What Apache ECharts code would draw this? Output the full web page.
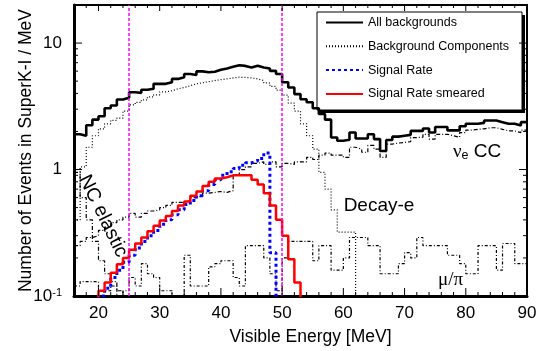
<!DOCTYPE html>
<html lang="en">
  <head>
    <meta charset="utf-8" />
  </head>
  <body style="margin: 0">
    <div id="container" style="width: 547px; height: 351px"></div>

    <script
      type="text/javascript"
      src="https://cdn.jsdelivr.net/npm/echarts@6/dist/echarts.min.js"
    ></script>
    <script type="text/javascript">
      // bin edges in MeV (1 MeV bins from 16 to 90)
      const binEdges = [
        16, 17, 18, 19, 20, 21, 22, 23, 24, 25, 26, 27, 28, 29, 30, 31, 32, 33,
        34, 35, 36, 37, 38, 39, 40, 41, 42, 43, 44, 45, 46, 47, 48, 49, 50, 51,
        52, 53, 54, 55, 56, 57, 58, 59, 60, 61, 62, 63, 64, 65, 66, 67, 68, 69,
        70, 71, 72, 73, 74, 75, 76, 77, 78, 79, 80, 81, 82, 83, 84, 85, 86, 87,
        88, 89, 90,
      ];

      // events / MeV per bin (0.05 = below the frame)
      const allBackgrounds = [
        1.9, 1.85, 2.24, 2.48, 2.64, 3.05, 3.21, 3.58, 3.7, 4.08,
        4.04, 4.28, 4.36, 4.76, 4.76, 4.91, 5.21, 5.37, 5.69, 5.6,
        5.97, 5.87, 5.94, 6.15, 6.3, 6.5, 6.67, 6.6, 6.4, 6.62,
        6.4, 6.3, 6.03, 5.7, 4.9, 4.45, 3.95, 3.6, 3.4, 3.05,
        2.75, 2.48, 1.79, 1.69, 1.72, 1.96, 1.76, 1.76, 1.9, 1.74,
        1.4, 1.71, 1.82, 1.85, 1.88, 2.02, 2.02, 2.11, 1.96, 2.17,
        2.17, 2.04, 2.04, 2.2, 2.3, 2.3, 2.34, 2.44, 2.44, 2.37,
        2.3, 2.3, 2.23, 2.37,
      ];
      const decayE = [
        0.4, 1.05, 1.5, 1.85, 2.1, 2.3, 2.45, 2.55, 2.9, 3.25,
        3.4, 3.55, 3.75, 3.9, 4.11, 4.2, 4.35, 4.45, 4.6, 4.76,
        4.85, 4.95, 5.05, 5.14, 5.21, 5.3, 5.37, 5.35, 5.3, 5.21,
        5.05, 4.85, 4.55, 4.25, 3.87, 3.35, 2.9, 2.3, 1.85, 1.45,
        0.95, 0.7, 0.48, 0.32, 0.32, 0.32, 0.05, 0.05, 0.05, 0.05,
        0.05, 0.05, 0.05, 0.05, 0.05, 0.05, 0.05, 0.05, 0.05, 0.05,
        0.05, 0.05, 0.05, 0.05, 0.05, 0.05, 0.05, 0.05, 0.05, 0.05,
        0.05, 0.05, 0.05, 0.05,
      ];
      const nueCC = [
        0.25, 0.27, 0.29, 0.3, 0.33, 0.35, 0.38, 0.4, 0.42, 0.45,
        0.42, 0.45, 0.47, 0.48, 0.5, 0.52, 0.55, 0.55, 0.57, 0.6,
        0.62, 0.65, 0.66, 0.67, 0.66, 0.68, 0.9, 1.0, 1.05, 1.12,
        1.15, 1.1, 1.15, 1.05, 1.12, 1.1, 1.15, 1.15, 1.25, 1.2,
        1.3, 1.35, 1.3, 1.3, 1.25, 1.5, 1.45, 1.37, 1.55, 1.45,
        1.25, 1.59, 1.62, 1.64, 1.66, 1.79, 1.8, 1.9, 1.74, 1.9,
        1.9, 1.85, 1.8, 1.96, 2.05, 2.08, 2.1, 2.14, 2.14, 2.08,
        2.02, 2.02, 1.96, 2.05,
      ];
      const ncElastic = [
        0.95, 0.6, 0.4, 0.27, 0.19, 0.15, 0.13, 0.11, 0.1, 0.08,
        0.05, 0.05, 0.05, 0.05, 0.05, 0.05, 0.05, 0.05, 0.05, 0.05,
        0.05, 0.05, 0.05, 0.05, 0.05, 0.05, 0.05, 0.05, 0.05, 0.05,
        0.05, 0.05, 0.05, 0.05, 0.05, 0.05, 0.05, 0.05, 0.05, 0.05,
        0.05, 0.05, 0.05, 0.05, 0.05, 0.05, 0.05, 0.05, 0.05, 0.05,
        0.05, 0.05, 0.05, 0.05, 0.05, 0.05, 0.05, 0.05, 0.05, 0.05,
        0.05, 0.05, 0.05, 0.05, 0.05, 0.05, 0.05, 0.05, 0.05, 0.05,
        0.05, 0.05, 0.05, 0.05,
      ];
      const muPi = [
        0.12, 0.13, 0.13, 0.13, 0.11, 0.11, 0.12, 0.1, 0.11, 0.14,
        0.12, 0.18, 0.15, 0.14, 0.11, 0.11, 0.1, 0.1, 0.21, 0.12,
        0.12, 0.12, 0.17, 0.18, 0.19, 0.19, 0.14, 0.12, 0.25, 0.25,
        0.25, 0.2, 0.15, 0.11, 0.2, 0.27, 0.27, 0.27, 0.27, 0.19,
        0.25, 0.25, 0.16, 0.16, 0.2, 0.29, 0.29, 0.29, 0.25, 0.25,
        0.15, 0.15, 0.15, 0.18, 0.22, 0.2, 0.29, 0.25, 0.25, 0.25,
        0.25, 0.21, 0.21, 0.18, 0.15, 0.15, 0.25, 0.25, 0.25, 0.16,
        0.26, 0.26, 0.18, 0.18,
      ];
      const signalRate = [
        0.05, 0.05, 0.05, 0.05,
        0.1, 0.115, 0.14, 0.16, 0.185, 0.21, 0.24, 0.27, 0.3, 0.33,
        0.37, 0.4, 0.44, 0.48, 0.53, 0.57, 0.62, 0.68, 0.76, 0.83,
        0.9, 0.96, 1.02, 1.08, 1.13, 1.17, 1.22, 1.35, 0.22, 0.05,
        0.05, 0.05, 0.05, 0.05, 0.05, 0.05, 0.05, 0.05, 0.05, 0.05,
        0.05, 0.05, 0.05, 0.05, 0.05, 0.05, 0.05, 0.05, 0.05, 0.05,
        0.05, 0.05, 0.05, 0.05, 0.05, 0.05, 0.05, 0.05, 0.05, 0.05,
        0.05, 0.05, 0.05, 0.05, 0.05, 0.05, 0.05, 0.05, 0.05, 0.05,
      ];
      const signalSmeared = [
        0.05, 0.05, 0.05, 0.05,
        0.11, 0.128, 0.153, 0.178, 0.2, 0.232, 0.26, 0.29, 0.325, 0.36,
        0.395, 0.43, 0.47, 0.52, 0.56, 0.62, 0.67, 0.74, 0.8, 0.85,
        0.87, 0.9, 0.9, 0.9, 0.9, 0.83, 0.76, 0.65, 0.52, 0.4,
        0.3, 0.195, 0.128, 0.05, 0.05, 0.05, 0.05, 0.05, 0.05, 0.05,
        0.05, 0.05, 0.05, 0.05, 0.05, 0.05, 0.05, 0.05, 0.05, 0.05,
        0.05, 0.05, 0.05, 0.05, 0.05, 0.05, 0.05, 0.05, 0.05, 0.05,
        0.05, 0.05, 0.05, 0.05, 0.05, 0.05, 0.05, 0.05, 0.05, 0.05,
      ];

      const xMajorTicks = [20, 30, 40, 50, 60, 70, 80, 90];
      const xMinorTicks = [
        16, 18, 22, 24, 26, 28, 32, 34, 36, 38, 42, 44, 46, 48, 52, 54, 56, 58,
        62, 64, 66, 68, 72, 74, 76, 78, 82, 84, 86, 88,
      ];
      const yMajorTicks = [0.1, 1, 10];
      const yMinorTicks = [
        0.2, 0.3, 0.4, 0.5, 0.6, 0.7, 0.8, 0.9, 2, 3, 4, 5, 6, 7, 8, 9,
      ];
      const cutLines = [25, 50];

      const FONT = "Liberation Sans, Arial, sans-serif";
      const X_MIN = 16, X_MAX = 90, Y_MIN = 0.1, Y_MAX = 20;

      // step histogram: each bin drawn from its low edge, last value repeated at 90
      function toSteps(values) {
        const pts = values.map((v, i) => [binEdges[i], v]);
        pts.push([binEdges[values.length], values[values.length - 1]]);
        return pts;
      }

      function yLabel(v) {
        const p = Math.round(Math.log10(v));
        if (Math.abs(v - Math.pow(10, p)) > 1e-6 * v) return "";
        if (p === -1) return "10{sup|-1}";
        if (p === 0) return "1";
        return "10";
      }

      // inward frame ticks drawn through the axes' own coordinate mapping
      function tickSeries(values, side, len) {
        return {
          type: "custom",
          silent: true,
          clip: false,
          z: 5,
          data: values.map((v) => [v]),
          renderItem: function (params, api) {
            const v = api.value(0);
            let p, d;
            if (side === "bottom") { p = api.coord([v, Y_MIN]); d = [0, -len]; }
            else if (side === "top") { p = api.coord([v, Y_MAX]); d = [0, len]; }
            else if (side === "left") { p = api.coord([X_MIN, v]); d = [len, 0]; }
            else { p = api.coord([X_MAX, v]); d = [-len, 0]; }
            return {
              type: "line",
              shape: { x1: p[0], y1: p[1], x2: p[0] + d[0], y2: p[1] + d[1] },
              style: { stroke: "#000", lineWidth: 1 },
            };
          },
        };
      }

      function lineSeries(name, values, color, width, type) {
        return {
          name: name,
          type: "line",
          step: "end",
          symbol: "none",
          itemStyle: { color: color },
          lineStyle: { color: color, width: width, type: type || "solid" },
          data: toSteps(values),
        };
      }

      var dom = document.getElementById("container");
      var myChart = echarts.init(dom, null, { renderer: "canvas" });

      const xBase = {
        type: "value",
        min: X_MIN,
        max: X_MAX,
        splitLine: { show: false },
        axisTick: { show: false },
      };
      const yBase = {
        type: "log",
        logBase: 10,
        min: Y_MIN,
        max: Y_MAX,
        splitLine: { show: false },
        axisTick: { show: false },
      };

      var smeared = lineSeries("Signal Rate smeared", signalSmeared, "#ff0000", 2.5);
      smeared.markLine = {
        silent: true,
        symbol: ["none", "none"],
        label: { show: false },
        lineStyle: { color: "#ff00ff", width: 1.5, type: [3, 2] },
        data: cutLines.map((v) => ({ xAxis: v })),
      };

      var option = {
        animation: false,
        backgroundColor: "#fff",
        grid: {
          left: 74,
          right: 20,
          top: 5,
          bottom: 49,
        },
        legend: {
          orient: "vertical",
          left: 317,
          top: 12,
          padding: [4, 14, 5, 8],
          itemWidth: 37,
          itemHeight: 14,
          itemGap: 10.8,
          selectedMode: false,
          itemStyle: { opacity: 0 },
          textStyle: { color: "#000", fontSize: 12.5, fontFamily: FONT },
          data: [
            "All backgrounds",
            "Background Components",
            "Signal Rate",
            "Signal Rate smeared",
          ],
        },
        graphic: [
          {
            type: "rect",
            z: 3,
            shape: { x: 320, y: 15, width: 205, height: 98 },
            style: { fill: "#000" },
          },
          {
            type: "rect",
            z: 3,
            shape: { x: 317, y: 12, width: 205, height: 98 },
            style: { fill: "#fff", stroke: "#000", lineWidth: 1 },
          },
          {
            type: "text",
            z: 3,
            x: 103,
            y: 216,
            rotation: (-64 * Math.PI) / 180,
            style: {
              text: "NC elastic",
              font: "19.5px " + FONT,
              fill: "#000",
              align: "center",
              verticalAlign: "middle",
            },
          },
          {
            type: "text",
            z: 3,
            x: 379,
            y: 206,
            style: {
              text: "Decay-e",
              font: "19px " + FONT,
              fill: "#000",
              align: "center",
              verticalAlign: "middle",
            },
          },
          {
            type: "text",
            z: 3,
            x: 453,
            y: 152,
            style: {
              text: "{g|ν}{s|e}{t| CC}",
              align: "left",
              verticalAlign: "middle",
              rich: {
                g: { fontSize: 19, fontFamily: "Liberation Serif, serif", fill: "#000" },
                s: {
                  fontSize: 12.5,
                  fontFamily: FONT,
                  fill: "#000",
                  verticalAlign: "bottom",
                  padding: [8, 0, 0, 0],
                },
                t: { fontSize: 19, fontFamily: FONT, fill: "#000" },
              },
            },
          },
          {
            type: "text",
            z: 3,
            x: 438,
            y: 280,
            style: {
              text: "μ/π",
              font: "19px Liberation Serif, serif",
              fill: "#000",
              align: "left",
              verticalAlign: "middle",
            },
          },
        ],
        xAxis: [
          Object.assign({}, xBase, {
            position: "bottom",
            name: "Visible Energy [MeV]",
            nameLocation: "middle",
            nameGap: 32,
            nameMoveOverlap: false,
            nameTextStyle: {
              color: "#000",
              fontSize: 17.5,
              fontFamily: FONT,
              padding: [0, 0, 0, 20],
            },
            axisLine: { show: true, onZero: false, lineStyle: { color: "#000", width: 3 } },
            axisLabel: {
              customValues: xMajorTicks,
              margin: 9,
              color: "#000",
              fontSize: 17,
              fontFamily: FONT,
            },
          }),
          Object.assign({}, xBase, {
            position: "top",
            axisLine: { show: true, onZero: false, lineStyle: { color: "#000", width: 2 } },
            axisLabel: { show: false },
          }),
        ],
        yAxis: [
          Object.assign({}, yBase, {
            position: "left",
            name: "Number of Events in SuperK-I / MeV",
            nameLocation: "middle",
            nameGap: 39,
            nameMoveOverlap: false,
            nameTextStyle: { color: "#000", fontSize: 17.5, fontFamily: FONT },
            axisLine: { show: true, onZero: false, lineStyle: { color: "#000", width: 3 } },
            axisLabel: {
              customValues: yMajorTicks,
              formatter: yLabel,
              margin: 12,
              color: "#000",
              fontSize: 17,
              fontFamily: FONT,
              rich: {
                sup: {
                  fontSize: 11,
                  fontFamily: FONT,
                  color: "#000",
                  verticalAlign: "top",
                },
              },
            },
          }),
          Object.assign({}, yBase, {
            position: "right",
            axisLine: { show: true, onZero: false, lineStyle: { color: "#000", width: 2 } },
            axisLabel: { show: false },
          }),
        ],
        series: [
          lineSeries("NC elastic", ncElastic, "#000", 1.2, [4, 2, 1, 2]),
          lineSeries("mu/pi", muPi, "#000", 1.2, [3, 2, 1, 2]),
          lineSeries("nue CC", nueCC, "#000", 1.2, [4, 2, 1, 2]),
          lineSeries("Background Components", decayE, "#000", 1.2, [1, 2]),
          lineSeries("All backgrounds", allBackgrounds, "#000", 2.6),
          lineSeries("Signal Rate", signalRate, "#0000ff", 3, [3, 3]),
          smeared,
          tickSeries(xMajorTicks, "bottom", 8),
          tickSeries(xMinorTicks, "bottom", 4),
          tickSeries(xMajorTicks, "top", 6),
          tickSeries(xMinorTicks, "top", 3),
          tickSeries(yMajorTicks, "left", 8),
          tickSeries(yMinorTicks, "left", 4),
          tickSeries(yMajorTicks, "right", 8),
          tickSeries(yMinorTicks, "right", 4),
        ],
      };

      if (option && typeof option === "object") {
        myChart.setOption(option);
      }
      window.addEventListener("resize", myChart.resize);
    </script>
  </body>
</html>
